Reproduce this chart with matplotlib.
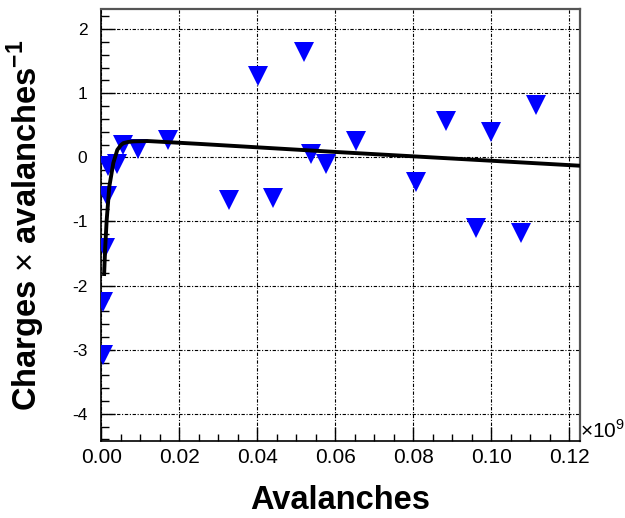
import matplotlib
matplotlib.use("Agg")
import matplotlib.pyplot as plt
from matplotlib.ticker import MultipleLocator

plt.rcParams['font.family'] = ['Liberation Sans', 'DejaVu Sans']
plt.rcParams['mathtext.fontset'] = 'custom'
plt.rcParams['mathtext.rm'] = 'Liberation Sans'
plt.rcParams['mathtext.bf'] = 'Liberation Sans:bold'

# avalanches (x 1e9) and charges x avalanches^-1
aval = [0.0004, 0.0005, 0.0010, 0.0015, 0.0018, 0.0040, 0.0056, 0.0095, 0.0172,
        0.0327, 0.0402, 0.0441, 0.0520, 0.0538, 0.0575, 0.0652, 0.0807, 0.0883,
        0.0961, 0.0998, 0.1075, 0.1114]
ratio = [-3.08, -2.25, -1.42, -0.61, -0.14, -0.10, 0.20, 0.13, 0.27,
         -0.66, 1.27, -0.63, 1.65, 0.06, -0.10, 0.26, -0.38, 0.57,
         -1.10, 0.39, -1.18, 0.82]

# fitted curve
fit_x = [0.0007, 0.0010, 0.00138, 0.00205, 0.00308, 0.0041, 0.0050, 0.00564,
         0.0068, 0.0082, 0.0120, 0.0253, 0.060, 0.1227]
fit_y = [-1.85, -1.40, -0.975, -0.456, -0.086, 0.117, 0.19, 0.222,
         0.24, 0.250, 0.255, 0.21, 0.085, -0.13]

fig = plt.figure(figsize=(6.25, 5.18), dpi=100)
ax = fig.add_axes([0.1621, 0.1492, 0.7659, 0.8328])

ax.plot(aval, ratio, linestyle='none', marker='v', ms=14, color='#0000ff',
        markeredgewidth=0, zorder=3)
ax.plot(fit_x, fit_y, color='black', lw=2.8, zorder=4, solid_capstyle='butt')

ax.set_xlim(0, 0.1227)
ax.set_ylim(-4.42, 2.31)

ax.xaxis.set_major_locator(MultipleLocator(0.02))
ax.xaxis.set_minor_locator(MultipleLocator(0.005))
ax.yaxis.set_major_locator(MultipleLocator(1))
ax.yaxis.set_minor_locator(MultipleLocator(0.2))
ax.xaxis.set_major_formatter(plt.FormatStrFormatter('%.2f'))
ax.yaxis.set_major_formatter(plt.FormatStrFormatter('%d'))

ax.grid(True, which='major', color='black', lw=0.8, linestyle=(0, (3, 1.5, 1, 1.5)))
ax.set_axisbelow(True)

ax.tick_params(axis='x', which='major', direction='in', length=10, width=1,
               labelsize=15, pad=5)
ax.tick_params(axis='x', which='minor', direction='in', length=5, width=1)
ax.tick_params(axis='y', which='major', direction='in', length=10, width=1,
               labelsize=12.5, pad=10)
ax.tick_params(axis='y', which='minor', direction='in', length=6, width=1)

for s in ['left', 'bottom']:
    ax.spines[s].set_color('black')
    ax.spines[s].set_linewidth(1.2)
for s in ['top', 'right']:
    ax.spines[s].set_color('#555555')
    ax.spines[s].set_linewidth(1.6)

ax.set_xlabel('Avalanches', fontsize=23.5, fontweight='bold', va='top')
ax.xaxis.set_label_coords(0.5, -0.102)
ax.set_ylabel(r'Charges $\times$ avalanches$^{\mathbf{-1}}$', fontsize=23.5,
              fontweight='bold')
ax.yaxis.set_label_coords(-0.113, 0.5)

ax.text(1.0, 0.006, r'$\times$10$^{9}$', transform=ax.transAxes, ha='left',
        va='baseline', fontsize=15)

fig.savefig('out.png', dpi=100)
